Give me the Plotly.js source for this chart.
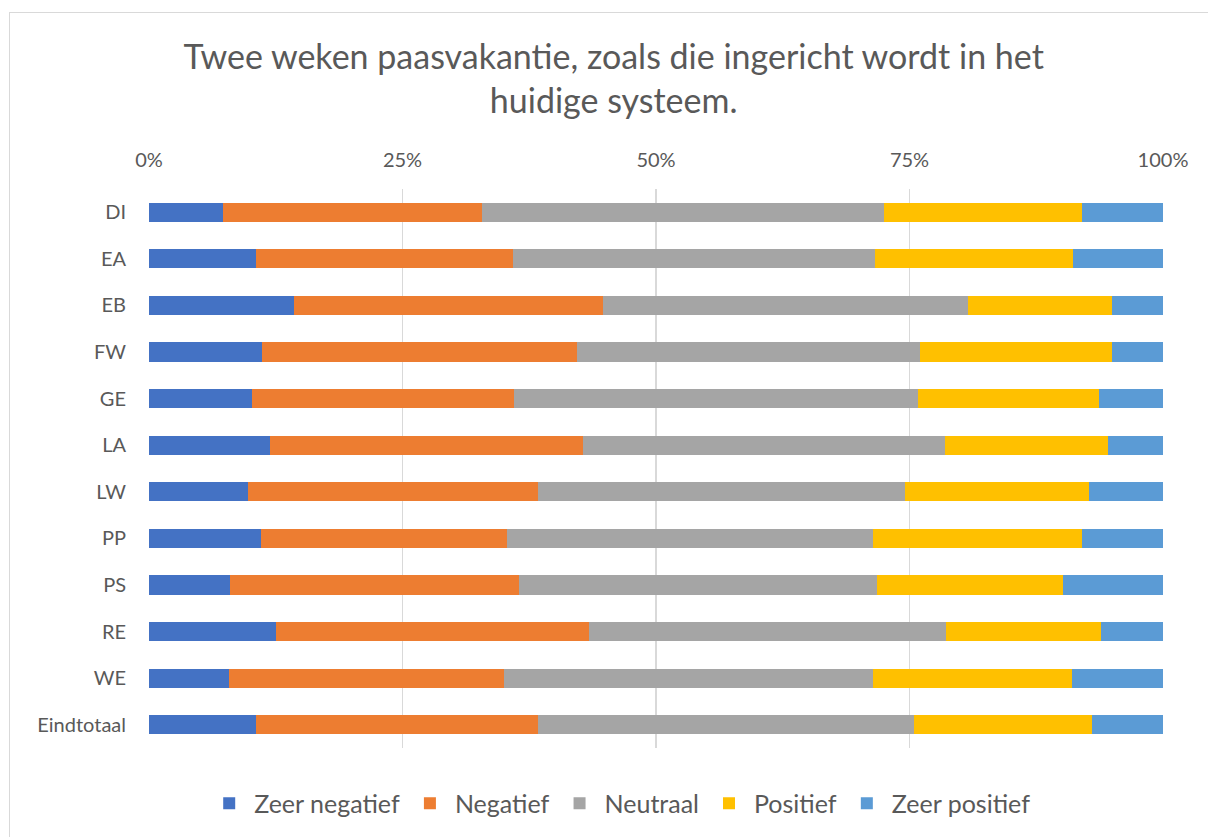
<!DOCTYPE html>
<html><head><meta charset="utf-8">
<script src="https://cdn.plot.ly/plotly-3.0.1.min.js"></script>
<style>
html,body{margin:0;padding:0;background:#fff;}
#frame{position:absolute;left:9px;top:12px;width:1230px;height:860px;border:1.5px solid #d9d9d9;box-sizing:border-box;}
#chart{position:absolute;left:0;top:0;width:1208px;height:837px;}
</style></head>
<body>
<div id="frame"></div>
<div id="chart"></div>
<script>
const categories = ["DI","EA","EB","FW","GE","LA","LW","PP","PS","RE","WE","Eindtotaal"];
const zeerNegatief = [7.3,10.6,14.3,11.1,10.2,11.9,9.8,11.0,8.0,12.5,7.9,10.6];
const negatief     = [25.5,25.3,30.5,31.1,25.8,30.9,28.6,24.3,28.5,30.9,27.1,27.8];
const neutraal     = [39.7,35.7,36.0,33.8,39.8,35.7,36.2,36.1,35.3,35.2,36.4,37.0];
const positief     = [19.5,19.5,14.2,19.0,17.9,16.1,18.1,20.6,18.3,15.3,19.6,17.6];
const zeerPositief = [8.0,8.9,5.0,5.0,6.3,5.4,7.3,8.0,9.9,6.1,9.0,7.0];
const seriesNames = ["Zeer negatief","Negatief","Neutraal","Positief","Zeer positief"];
const tickVals = [0,25,50,75,100];
const tickText = ["0%","25%","50%","75%","100%"];

const colors = ["#4472C4","#ED7D31","#A5A5A5","#FFC000","#5B9BD5"];
const data = [zeerNegatief,negatief,neutraal,positief,zeerPositief].map((vals,i)=>({
  type:"bar", orientation:"h", name:seriesNames[i], x:vals, y:categories,
  marker:{color:colors[i], line:{width:0}}, hoverinfo:"x+name"
}));
const font = "Lato, 'Open Sans', sans-serif";
const layout = {
  width:1208, height:837,
  paper_bgcolor:"rgba(0,0,0,0)", plot_bgcolor:"rgba(0,0,0,0)",
  margin:{l:149, r:45, t:189, b:89},
  barmode:"stack", barnorm:"percent", bargap:0.59,
  font:{family:font, color:"#595959"},
  title:{text:"Twee weken paasvakantie, zoals die ingericht wordt in het<br>huidige systeem.",
         font:{family:font, size:34, color:"#595959"},
         xref:"container", x:0.508, xanchor:"center", yref:"container", y:0.918, yanchor:"top"},
  xaxis:{side:"top", range:[0,100], tickvals:tickVals, ticktext:tickText,
         showgrid:true, gridcolor:"#d9d9d9", gridwidth:1.5, zeroline:false,
         showline:false, ticks:"", ticklabelstandoff:17,
         tickfont:{family:font, size:20, color:"#595959"}, fixedrange:true},
  yaxis:{autorange:"reversed", type:"category", showgrid:false, zeroline:false, showline:false,
         ticks:"", ticklabelstandoff:22, tickfont:{family:font, size:20, color:"#595959"}, fixedrange:true},
  showlegend:true,
  legend:{orientation:"h", xref:"container", x:0.513, xanchor:"center", yref:"container", y:0.04, yanchor:"middle",
          font:{family:font, size:25, color:"#595959"}, traceorder:"normal", itemwidth:40}
};
Plotly.newPlot("chart", data, layout, {displayModeBar:false, staticPlot:true});
</script>
</body></html>
